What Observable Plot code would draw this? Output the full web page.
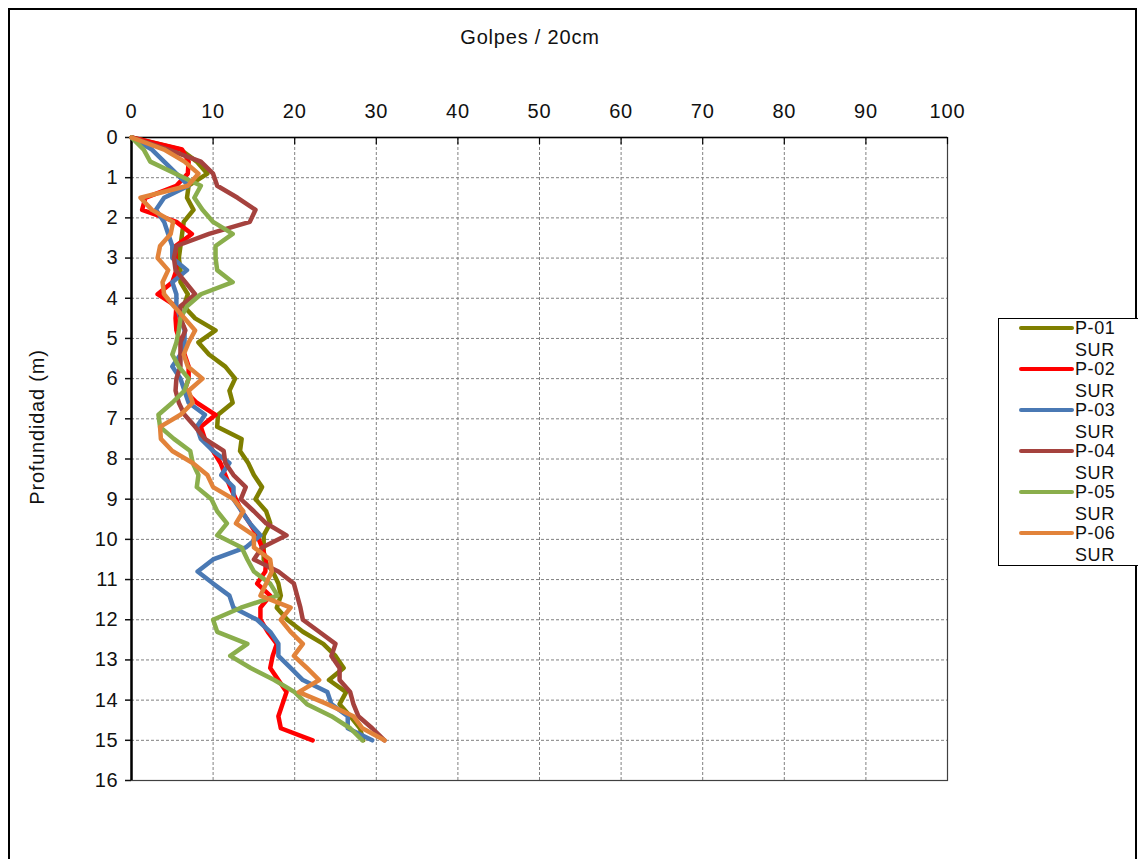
<!DOCTYPE html>
<html>
<head>
<meta charset="utf-8">
<script src="https://cdn.jsdelivr.net/npm/d3@7"></script>
<script src="https://cdn.jsdelivr.net/npm/@observablehq/plot@0.6"></script>
<style>
  html, body { margin: 0; padding: 0; background: #fff; }
  #wrap { position: relative; width: 1138px; height: 859px; overflow: hidden;
          font-family: "Liberation Sans", Arial, sans-serif; color: #000; }
  #border { position: absolute; left: 8px; top: 8px; width: 1129px; height: 900px;
            border: 2px solid #000; box-sizing: border-box; }
  #chart { position: absolute; left: 0; top: 0; }
  #title { position: absolute; left: 380px; width: 300px; top: 26px; text-align: center;
           font-size: 20px; letter-spacing: 0.8px; color: #111; }
  #ylabel { position: absolute; left: 37px; top: 427px; font-size: 20px; letter-spacing: 0.8px;
            white-space: nowrap; color: #111; transform: translate(-50%, -50%) rotate(-90deg); }
  #legend { position: absolute; left: 998px; top: 318px; width: 145px; height: 248px;
            border: 1px solid #000; box-sizing: border-box; background: #fff; }
  .lg-line { position: absolute; left: 20px; width: 55px; height: 4px; border-radius: 2px; }
  .lg-text { position: absolute; left: 76px; font-size: 18px; line-height: 18px;
             letter-spacing: 0.6px; color: #111; }
  svg text { letter-spacing: 0.8px; }
</style>
</head>
<body>
<div id="wrap">
  <div id="border"></div>
  <div id="chart"></div>
  <div id="title">Golpes / 20cm</div>
  <div id="ylabel">Profundidad (m)</div>
  <div id="legend"></div>
</div>
<script>
// Depth of each reading (m)
const depths = [0, 0.3, 0.6, 0.9, 1.2, 1.5, 1.8, 2.1, 2.4, 2.7, 3.0, 3.3, 3.6, 3.9, 4.2, 4.5, 4.8,
  5.1, 5.4, 5.7, 6.0, 6.3, 6.6, 6.9, 7.2, 7.5, 7.8, 8.1, 8.4, 8.7, 9.0, 9.3, 9.6, 9.9, 10.2,
  10.5, 10.8, 11.1, 11.4, 11.7, 12.0, 12.3, 12.6, 12.9, 13.2, 13.5, 13.8, 14.1, 14.4, 14.7, 15.0];

// Blow counts per 20 cm for each probe
const p01 = [0, 6, 8, 9.3, 7, 6.8, 7.6, 6.4, 6.2, 6, 5.8, 6, 6, 6.9, 6.4, 7.8, 10.3,
  8.2, 9.5, 11.5, 12.7, 12, 12.4, 10.6, 10.5, 13.5, 13.3, 14.3, 15, 16, 15.2, 16.5, 17, 16.2, 16.2,
  16.2, 17.3, 18, 18.3, 17.8, 19.1, 21, 23.5, 25, 26, 24.2, 26.3, 25.5, 26.8, 28, 28.4];
const p02 = [0, 6.2, 7, 6.9, 5.5, 1.7, 1.3, 5.5, 7.4, 5.4, 5.4, 5.5, 5, 3.2, 5.5, 5.4, 5.5,
  6, 6.5, 7, 7, 6.5, 8, 10.3, 8.5, 9, 10, 10.9, 11.5, 12.1, 12.8, 13.5, 14.5, 15.4, 16,
  16.5, 16.4, 15.4, 17, 15.8, 15.8, 16.7, 17.8, 17.3, 17, 18, 19, 18.5, 18, 18.3, 22.2];
const p03 = [0, 2.5, 4, 5.5, 7, 4, 3, 4, 4.5, 5, 5, 6.8, 5, 5.5, 5.5, 6, 6.5,
  6.5, 6, 5, 6, 6.5, 7, 9, 8, 8.5, 10, 12, 11, 12.5, 12.5, 13.5, 14.5, 15.8, 14,
  10, 8.1, 10, 12, 12.5, 15.4, 17, 18, 18, 19.5, 21, 24, 24.5, 26.5, 26.5, 29.5];
const p04 = [0, 4.5, 8.5, 10, 10.5, 13, 15.2, 14.5, 9.5, 5.5, 5.2, 5.4, 6.6, 7.8, 6, 6, 6.6,
  6, 6, 6, 5.5, 5.4, 5.8, 6.5, 7.8, 9, 11.3, 11.5, 12.5, 14, 13.4, 15, 16.5, 19, 16,
  15, 18, 19.9, 20.3, 20.7, 21, 23, 25, 24.5, 25.5, 25.5, 26.8, 27.2, 27.8, 29.5, 31];
const p05 = [0, 1.5, 2.3, 5.4, 8.5, 7.7, 8.7, 10, 12.4, 10.3, 10.3, 10.5, 12.4, 8.5, 6.8, 6, 5.8,
  5.5, 5, 5.8, 7, 6.5, 5, 3.3, 3.5, 5.2, 7.2, 7.5, 8.2, 8, 9.8, 10.5, 11.7, 10.5, 13.5,
  14.2, 15, 17, 17.9, 13.4, 10, 10.5, 14.2, 12.1, 14.6, 17.5, 20, 21.5, 24.5, 26.8, 28.3];
const p06 = [0, 4, 6.5, 8.2, 6.9, 1.1, 2.5, 5.1, 4.8, 3.5, 3.2, 4.5, 3.8, 4, 5.2, 6.5, 7.8,
  7, 6.4, 6.9, 8.7, 7, 7.5, 6, 3.5, 3.6, 5, 7.5, 9.3, 10, 12.5, 13.7, 12.8, 15, 15,
  17, 17.2, 16.5, 15.8, 19.5, 18.3, 19.5, 21, 19.9, 21.5, 23, 20.5, 24, 27.2, 28.3, 31];

const probeNames = ["P-01 SUR", "P-02 SUR", "P-03 SUR", "P-04 SUR", "P-05 SUR", "P-06 SUR"];
const probeColors = ["#7f7f00", "#ff0000", "#4a79b4", "#a5423e", "#8aae4c", "#e2833a"];
const xTicks = [0, 10, 20, 30, 40, 50, 60, 70, 80, 90, 100];
const yTicks = [0, 1, 2, 3, 4, 5, 6, 7, 8, 9, 10, 11, 12, 13, 14, 15, 16];

const probeValues = [p01, p02, p03, p04, p05, p06];
const rows = probeNames.flatMap((name, k) =>
  probeValues[k].map((v, i) => ({probe: name, golpes: v, prof: depths[i]})));

const fontFamily = '"Liberation Sans", Arial, sans-serif';

const chart = Plot.plot({
  width: 1138,
  height: 859,
  marginLeft: 131,
  marginRight: 191,
  marginTop: 137,
  marginBottom: 79,
  style: {fontFamily, fontSize: "20px", background: "transparent", color: "#111"},
  x: {domain: [0, 100], label: null},
  y: {domain: [0, 16], reverse: true, label: null},
  color: {domain: probeNames, range: probeColors},
  marks: [
    Plot.gridX(xTicks.slice(1), {stroke: "#808080", strokeOpacity: 1, strokeDasharray: "3,2"}),
    Plot.gridY(yTicks.slice(1), {stroke: "#808080", strokeOpacity: 1, strokeDasharray: "3,2"}),
    Plot.frame({stroke: "#404040", strokeWidth: 1.2}),
    Plot.axisX({anchor: "top", ticks: xTicks, tickSize: 0, tickPadding: 20, fontSize: 20}),
    Plot.ruleX(xTicks, {y1: 0, y2: 0.18, stroke: "#000", strokeWidth: 1.2}),
    Plot.axisY({anchor: "left", ticks: yTicks, tickSize: 6, tickPadding: 7, fontSize: 20, strokeWidth: 1.5}),
    Plot.ruleX([0], {stroke: "#000", strokeWidth: 2.5}),
    Plot.ruleY([0], {stroke: "#000", strokeWidth: 1.5}),
    Plot.line(rows, {x: "golpes", y: "prof", z: "probe", stroke: "probe",
      strokeWidth: 4.5, strokeLinejoin: "round", strokeLinecap: "round"})
  ]
});
document.getElementById("chart").appendChild(chart);

// Legend: one entry per probe, label wrapped onto two lines
const legend = document.getElementById("legend");
probeNames.forEach((name, k) => {
  const cy = 9 + k * 41;
  const line = document.createElement("div");
  line.className = "lg-line";
  line.style.top = (cy - 2) + "px";
  line.style.background = probeColors[k];
  legend.appendChild(line);
  const [first, second] = name.split(" ");
  const t1 = document.createElement("div");
  t1.className = "lg-text";
  t1.style.top = (cy - 9) + "px";
  t1.textContent = first;
  legend.appendChild(t1);
  const t2 = document.createElement("div");
  t2.className = "lg-text";
  t2.style.top = (cy + 13) + "px";
  t2.textContent = second;
  legend.appendChild(t2);
});
</script>
</body>
</html>
